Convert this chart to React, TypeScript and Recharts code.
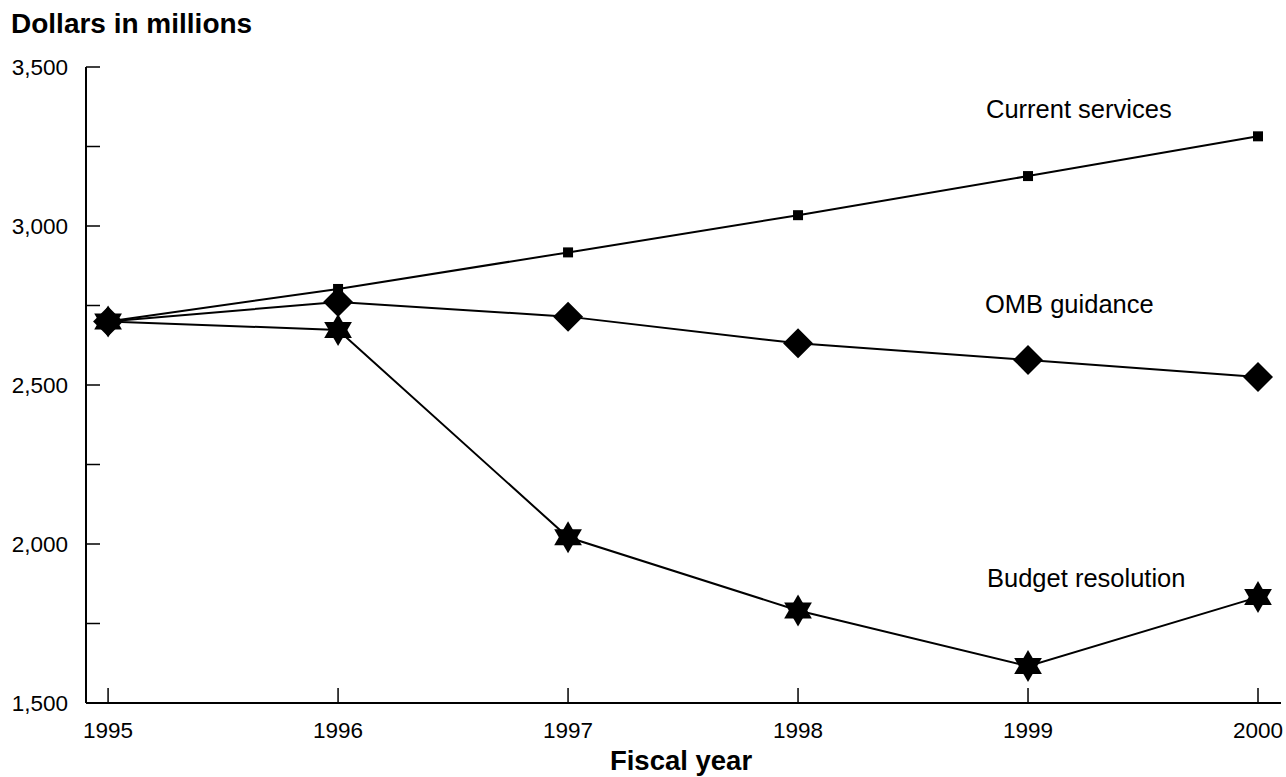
import React from 'react';
import { LineChart, Line, XAxis, YAxis } from 'recharts';

const years = [1995, 1996, 1997, 1998, 1999, 2000];
const currentServices = [2700, 2802, 2917, 3034, 3157, 3282];
const ombGuidance = [2700, 2761, 2715, 2631, 2579, 2525];
const budgetResolution = [2700, 2673, 2021, 1791, 1616, 1833];
const yTicks = [1500, 1750, 2000, 2250, 2500, 2750, 3000, 3250, 3500];
const xTicks = [1995, 1996, 1997, 1998, 1999, 2000];
const seriesLabels = ['Current services', 'OMB guidance', 'Budget resolution'];
const yTitle = 'Dollars in millions';
const xTitle = 'Fiscal year';

const FONT = '"Liberation Sans", Arial, Helvetica, sans-serif';

const data = years.map((yr, i) => ({
  year: yr,
  current: currentServices[i],
  omb: ombGuidance[i],
  budget: budgetResolution[i],
}));

const YTick = (props: any) => {
  const { x, y, payload } = props;
  const v = payload.value as number;
  return (
    <g>
      <line x1={x} y1={y} x2={x + 14} y2={y} stroke="#000" strokeWidth={1.5} />
      {v % 500 === 0 && (
        <text x={x - 18} y={y + 8} textAnchor="end" fontSize={22.5} fontFamily={FONT} fill="#000">
          {v.toLocaleString('en-US')}
        </text>
      )}
    </g>
  );
};

const XTick = (props: any) => {
  const { x, y, payload } = props;
  return (
    <g>
      <line x1={x} y1={y} x2={x} y2={y - 15} stroke="#000" strokeWidth={1.5} />
      <text x={x} y={y + 35} textAnchor="middle" fontSize={22.5} fontFamily={FONT} fill="#000">
        {String(payload.value)}
      </text>
    </g>
  );
};

const SquareDot = (props: any) => {
  const { cx, cy, index } = props;
  if (cx == null || cy == null) return <g key={`s-${index}`} />;
  return <rect key={`s-${index}`} x={cx - 5} y={cy - 5} width={10} height={10} fill="#000" />;
};

const DiamondDot = (props: any) => {
  const { cx, cy, index } = props;
  if (cx == null || cy == null) return <g key={`d-${index}`} />;
  const r = 15;
  return (
    <polygon
      key={`d-${index}`}
      points={`${cx},${cy - r} ${cx + r},${cy} ${cx},${cy + r} ${cx - r},${cy}`}
      fill="#000"
    />
  );
};

const StarDot = (props: any) => {
  const { cx, cy, index } = props;
  if (cx == null || cy == null) return <g key={`h-${index}`} />;
  const R = 16;
  const c = R * Math.cos(Math.PI / 6);
  const up = `${cx},${cy - R} ${cx + c},${cy + R / 2} ${cx - c},${cy + R / 2}`;
  const down = `${cx},${cy + R} ${cx + c},${cy - R / 2} ${cx - c},${cy - R / 2}`;
  return (
    <g key={`h-${index}`}>
      <polygon points={up} fill="#000" />
      <polygon points={down} fill="#000" />
    </g>
  );
};

export default function App() {
  return (
    <div style={{ position: 'absolute', left: 0, top: 0, width: 1286, height: 777, background: '#fff' }}>
      <LineChart
        width={1286}
        height={777}
        data={data}
        margin={{ top: 67, right: 5, bottom: 0, left: 0 }}
      >
        <XAxis
          dataKey="year"
          type="number"
          domain={[1994.904, 2000.1]}
          ticks={xTicks}
          allowDataOverflow
          interval={0}
          height={74}
          tickSize={0}
          tickMargin={0}
          tickLine={false}
          axisLine={{ stroke: '#000', strokeWidth: 2 }}
          tick={<XTick />}
        />
        <YAxis
          type="number"
          domain={[1500, 3500]}
          ticks={yTicks}
          allowDataOverflow
          interval={0}
          width={86}
          tickSize={0}
          tickMargin={0}
          tickLine={false}
          axisLine={{ stroke: '#000', strokeWidth: 2 }}
          tick={<YTick />}
        />
        <Line
          dataKey="current"
          stroke="#000"
          strokeWidth={2}
          dot={SquareDot}
          activeDot={false}
          isAnimationActive={false}
        />
        <Line
          dataKey="omb"
          stroke="#000"
          strokeWidth={2}
          dot={DiamondDot}
          activeDot={false}
          isAnimationActive={false}
        />
        <Line
          dataKey="budget"
          stroke="#000"
          strokeWidth={2}
          dot={StarDot}
          activeDot={false}
          isAnimationActive={false}
        />
      </LineChart>
      <svg
        width={1286}
        height={777}
        style={{ position: 'absolute', left: 0, top: 0, pointerEvents: 'none' }}
      >
        <text x={11} y={33} fontSize={28} fontWeight="bold" fontFamily={FONT} fill="#000">
          {yTitle}
        </text>
        <text x={986} y={118} fontSize={25.5} fontFamily={FONT} fill="#000">
          {seriesLabels[0]}
        </text>
        <text x={985} y={313} fontSize={25.5} fontFamily={FONT} fill="#000">
          {seriesLabels[1]}
        </text>
        <text x={987} y={587} fontSize={25.5} fontFamily={FONT} fill="#000">
          {seriesLabels[2]}
        </text>
        <text x={681} y={770} textAnchor="middle" fontSize={27.5} fontWeight="bold" fontFamily={FONT} fill="#000">
          {xTitle}
        </text>
      </svg>
    </div>
  );
}
